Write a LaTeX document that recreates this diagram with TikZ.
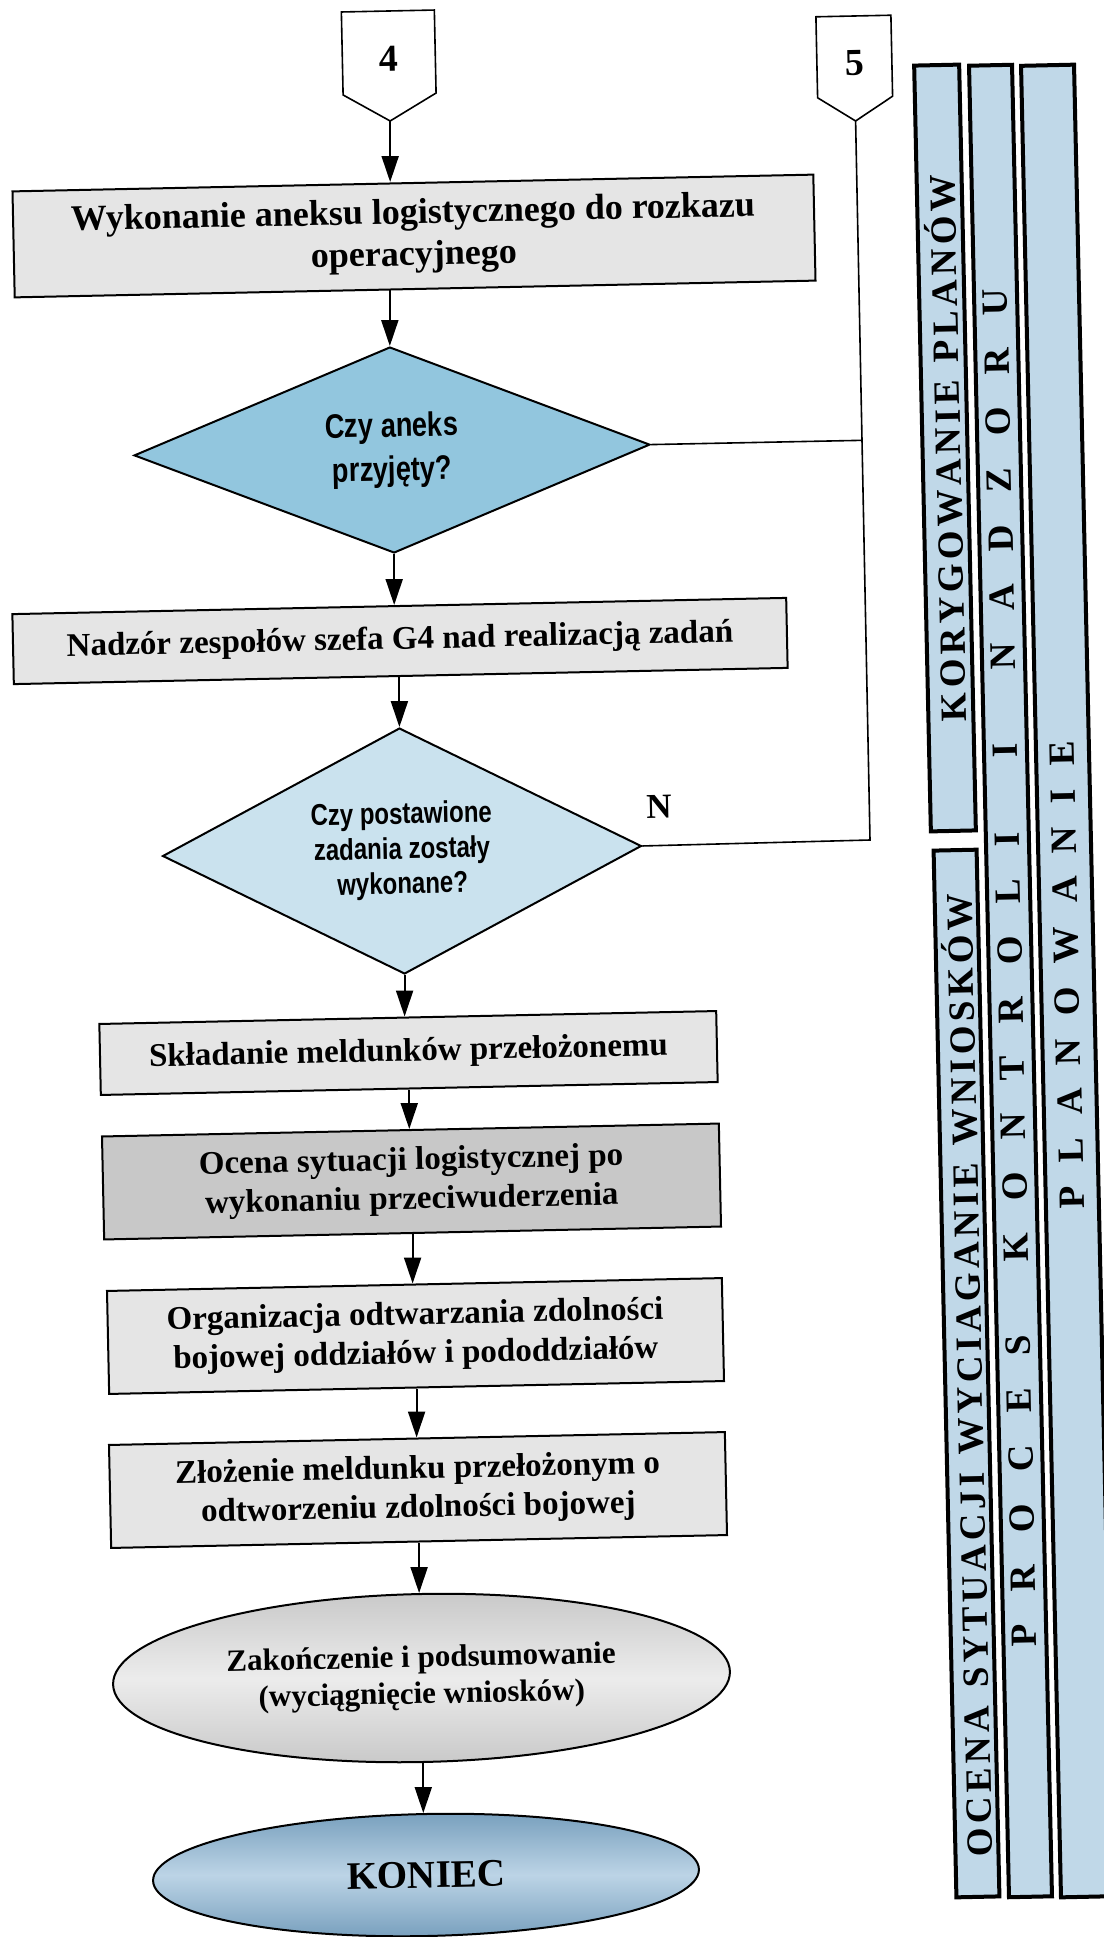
\documentclass[tikz,border=0pt]{standalone}
\usepackage{fontspec}
\setmainfont{Liberation Serif}
\newfontfamily\dfont[FakeStretch=0.8]{Liberation Sans}
\usetikzlibrary{shapes.geometric,arrows.meta,calc}
\definecolor{boxgray}{RGB}{229,229,229}
\definecolor{boxdark}{RGB}{200,200,200}
\definecolor{dblue}{RGB}{146,198,222}
\definecolor{dlight}{RGB}{202,226,238}
\definecolor{barblue}{RGB}{192,216,232}
\definecolor{ellgray}{RGB}{200,200,200}
\definecolor{ellgrayl}{RGB}{236,236,236}
\definecolor{konblue}{RGB}{118,158,188}
\definecolor{konbluel}{RGB}{188,212,230}
\def\trackit#1#2{\def\trk{\kern#1}\trackB#2\relax}
\def\trackB#1{#1\trackC}
\def\trackC#1{\ifx#1\relax\else\trk#1\expandafter\trackC\fi}
\begin{document}
\begin{tikzpicture}[x=1pt,y=-1pt,
  box/.style={draw=black,line width=2pt,fill=boxgray,rectangle,inner sep=0pt,align=center,rotate=1.2,font=\bfseries\fontsize{33}{39}\selectfont},
  decision/.style={diamond,draw=black,line width=2pt,inner sep=0pt,aspect=2.4,align=center,rotate=1.2},
  term/.style={ellipse,draw=black,line width=2pt,inner sep=0pt,align=center,rotate=1.2,font=\bfseries\fontsize{31}{36.5}\selectfont},
  bar/.style={rectangle,draw=black,line width=4pt,fill=barblue,inner sep=0pt,rotate=1.25},
  bartext/.style={inner sep=0pt,rotate=91.25,font=\bfseries\fontsize{37}{40}\selectfont},
  conntext/.style={inner sep=0pt,rotate=1.2,font=\bfseries\fontsize{38}{40}\selectfont},
  arr/.style={line width=2pt,-{Triangle[length=26pt,width=17pt]}},
  link/.style={line width=1.6pt},
  offpage/.style={draw=black,line width=1.6pt,fill=white,line join=miter}
]
\useasboundingbox (0,0) rectangle (1103,1937);
\fill[white] (0,0) rectangle (1103,1937);

% off-page connectors
\begin{scope}[shift={(389,66)},rotate=1.2]
  \draw[offpage] (-46.5,-55) -- (46.5,-55) -- (46.5,28) -- (0,55) -- (-46.5,28) -- cycle;
  \node[conntext] (n4) at (0,-7) {4};
  \coordinate (p4) at (0,55);
\end{scope}
\begin{scope}[shift={(854.5,68.5)},rotate=1.2]
  \draw[offpage] (-37.5,-52.5) -- (37.5,-52.5) -- (37.5,28.5) -- (0,52.5) -- (-37.5,28.5) -- cycle;
  \node[conntext] (n5) at (0,-5.5) {5};
  \coordinate (p5) at (0,52.5);
\end{scope}

% flow nodes
\node[box,font=\bfseries\fontsize{36}{42}\selectfont,minimum width=801,minimum height=106] (b1) at (414,236) {Wykonanie aneksu logistycznego do rozkazu\\operacyjnego};
\node[decision,fill=dblue,minimum width=516,minimum height=206,font=\dfont\bfseries\fontsize{34}{44}\selectfont] (d1) at (392,450) {Czy aneks\\przyjęty?};
\node[box,minimum width=774,minimum height=70] (b2) at (400,641) {Nadzór zespołów szefa G4 nad realizacją zadań};
\node[decision,fill=dlight,minimum width=479,minimum height=246,font=\dfont\bfseries\fontsize{30}{35}\selectfont] (d2) at (402,851) {Czy postawione\\zadania zostały\\wykonane?};
\node[box,minimum width=617,minimum height=71] (b3) at (408.5,1053) {Składanie meldunków przełożonemu};
\node[box,fill=boxdark,minimum width=617,minimum height=103] (b4) at (411.5,1181.5) {Ocena sytuacji logistycznej po\\wykonaniu przeciwuderzenia};
\node[box,minimum width=615,minimum height=103] (b5) at (415.5,1336) {Organizacja odtwarzania zdolności\\bojowej oddziałów i pododdziałów};
\node[box,minimum width=616,minimum height=103] (b6) at (418,1490) {Złożenie meldunku przełożonym o\\odtworzeniu zdolności bojowej};
\node[term,top color=ellgray,bottom color=ellgray,middle color=ellgrayl,minimum width=617,minimum height=168] (e1) at (421.5,1678) {Zakończenie i podsumowanie\\(wyciągnięcie wniosków)};
\node[term,top color=konblue,bottom color=konblue,middle color=konbluel,minimum width=546,minimum height=122,font=\bfseries\fontsize{39}{42}\selectfont] (e2) at (426,1875) {KONIEC};

% arrows
\draw[arr] (p4) -- (p4 |- b1.north);
\draw[arr] (d1.north |- b1.south) -- (d1.north);
\draw[arr] (d1.south) -- (d1.south |- b2.north);
\draw[arr] (d2.north |- b2.south) -- (d2.north);
\draw[arr] (d2.south) -- (d2.south |- b3.north);
\draw[arr] (b3.south) -- (b3.south |- b4.north);
\draw[arr] (b4.south) -- (b4.south |- b5.north);
\draw[arr] (b5.south) -- (b5.south |- b6.north);
\draw[arr] (b6.south) -- (b6.south |- e1.north);
\draw[arr] (e1.south) -- (e1.south |- e2.north);

% return links to connector 5
\coordinate (corner) at (870,840);
\draw[link] (p5) -- (corner) -- (d2.east);
\draw[link] (d1.east) -- ($(p5)!(d1.east)!(corner)$);
\node[conntext,font=\bfseries\fontsize{35}{38}\selectfont] (lblN) at (659,807) {N};

% side bars
\node[bar,minimum width=45,minimum height=766] (barA) at (945,448) {};
\node[bar,minimum width=43,minimum height=1047] (barD) at (966.5,1373.5) {};
\node[bar,minimum width=43,minimum height=1832] (barB) at (1010.5,981) {};
\node[bar,minimum width=53,minimum height=1832] (barC) at (1067.5,981) {};
\node[bartext] (tA) at (945,448) {\trackit{4.3pt}{KORYGOWANIE\ PLANÓW}};
\node[bartext] (tD) at (966.5,1375) {\trackit{4.3pt}{OCENA\ SYTUACJI\ WYCIAGANIE\ WNIOSKÓW}};
\node[bartext] (tB) at (1010,968) {\trackit{32.3pt}{PROCES\ KONTROLI\ I\ NADZORU}};
\node[bartext] (tC) at (1067,975) {\trackit{23.2pt}{PLANOWANIE}};
\end{tikzpicture}
\end{document}
